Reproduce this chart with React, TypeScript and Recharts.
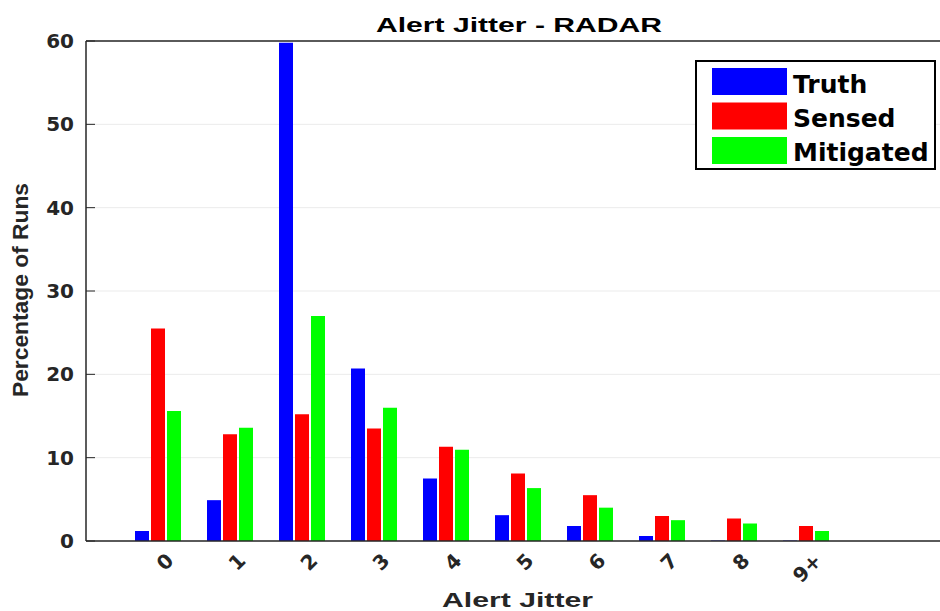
import React from 'react'
import {
  BarChart,
  Bar,
  XAxis,
  YAxis,
  CartesianGrid,
  ReferenceLine,
} from 'recharts'

// ============================================
// Data
// ============================================

const categories = ['0', '1', '2', '3', '4', '5', '6', '7', '8', '9+']
const truth = [1.2, 4.9, 59.8, 20.7, 7.5, 3.1, 1.8, 0.6, 0.05, 0.05]
const sensed = [25.5, 12.8, 15.2, 13.5, 11.3, 8.1, 5.5, 3.0, 2.7, 1.8]
const mitigated = [15.6, 13.6, 27.0, 16.0, 10.95, 6.35, 4.0, 2.5, 2.1, 1.2]
const yTicks = [0, 10, 20, 30, 40, 50, 60]

const series = [
  { key: 'truth', name: 'Truth', color: '#0000FF' },
  { key: 'sensed', name: 'Sensed', color: '#FF0000' },
  { key: 'mitigated', name: 'Mitigated', color: '#00FF00' },
]

const chartData = categories.map((cat, i) => ({
  cat,
  truth: truth[i],
  sensed: sensed[i],
  mitigated: mitigated[i],
}))

// ============================================
// Styles
// ============================================

const FONT = '"DejaVu Sans", "Liberation Sans", sans-serif'
const LABEL_FONT = '"Liberation Sans", Arial, sans-serif'
const AXIS = '#262626'

// rotated category labels (MATLAB style, 45deg)
function XTick({ x, y, payload }: { x?: number; y?: number; payload?: { value: string } }) {
  const ax = (x ?? 0) + 12
  const ay = (y ?? 0) + 8
  return (
    <text
      x={ax}
      y={ay}
      dy="0.35em"
      transform={`rotate(-45, ${ax}, ${ay})`}
      textAnchor="end"
      fontFamily={FONT}
      fontWeight="bold"
      fontSize={20}
      fill={AXIS}
    >
      {payload?.value}
    </text>
  )
}

// ============================================
// App
// ============================================

export default function App() {
  return (
    <div style={{ position: 'absolute', left: 0, top: 0, width: 940, height: 611, background: '#fff' }}>
      <BarChart
        width={940}
        height={611}
        data={chartData}
        margin={{ top: 41, right: 0, left: 0, bottom: 0 }}
        barSize={14}
        barGap={2}
      >
        <CartesianGrid vertical={false} stroke="#ebebeb" />
        <XAxis
          dataKey="cat"
          height={70}
          padding={{ left: 36, right: 98 }}
          axisLine={{ stroke: AXIS, strokeWidth: 1.5 }}
          tickLine={false}
          tick={<XTick />}
          interval={0}
        />
        <XAxis
          xAxisId="top"
          orientation="top"
          dataKey="cat"
          height={0}
          padding={{ left: 36, right: 98 }}
          axisLine={{ stroke: AXIS, strokeWidth: 1.5 }}
          tickLine={{ stroke: AXIS }}
          tickSize={-6}
          tickFormatter={() => ''}
          interval={0}
        />
        <YAxis
          width={86}
          domain={[0, 60]}
          ticks={yTicks}
          axisLine={{ stroke: AXIS, strokeWidth: 1.5 }}
          tickLine={{ stroke: AXIS }}
          tickSize={-9}
          tickMargin={21}
          tick={{ fontFamily: FONT, fontWeight: 'bold', fontSize: 20, fill: AXIS }}
        />
        <ReferenceLine y={60} stroke={AXIS} strokeWidth={1.5} />
        {series.map((s) => (
          <Bar key={s.key} dataKey={s.key} name={s.name} fill={s.color} isAnimationActive={false} />
        ))}
      </BarChart>

      {/* title, axis labels, legend */}
      <svg
        width={940}
        height={611}
        style={{ position: 'absolute', left: 0, top: 0, pointerEvents: 'none' }}
        fontWeight="bold"
      >
        <text
          x={376}
          y={32}
          fontFamily={LABEL_FONT}
          fontSize={21}
          textLength={286}
          lengthAdjust="spacingAndGlyphs"
          fill="#000"
        >
          Alert Jitter - RADAR
        </text>
        <text
          x={442}
          y={607}
          fontFamily={LABEL_FONT}
          fontSize={21}
          textLength={151}
          lengthAdjust="spacingAndGlyphs"
          fill={AXIS}
        >
          Alert Jitter
        </text>
        <text
          x={28}
          y={397}
          fontFamily={LABEL_FONT}
          fontSize={22}
          textLength={214}
          lengthAdjust="spacingAndGlyphs"
          fill={AXIS}
          transform="rotate(-90, 28, 397)"
        >
          Percentage of Runs
        </text>

        <rect x={696} y={61} width={239} height={108} fill="#fff" stroke="#000" strokeWidth={2} />
        {series.map((s, i) => (
          <g key={s.key}>
            <rect x={712} y={68 + i * 34.5} width={75} height={27} fill={s.color} />
            <text x={793} y={92.5 + i * 34} fontFamily={FONT} fontSize={25} fill="#000">
              {s.name}
            </text>
          </g>
        ))}
      </svg>
    </div>
  )
}
